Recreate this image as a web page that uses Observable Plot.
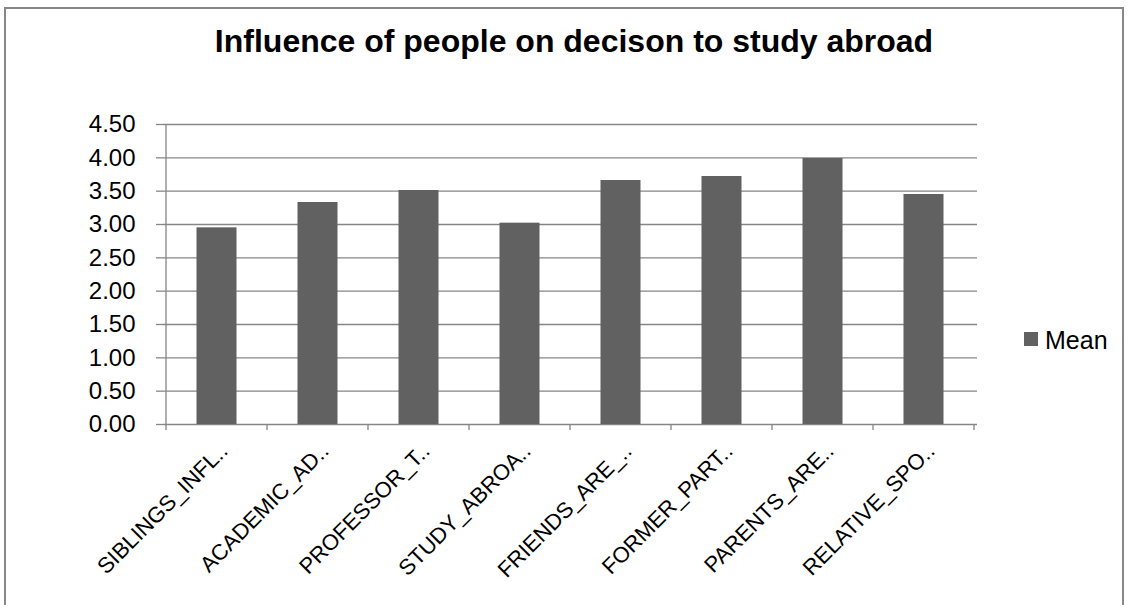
<!DOCTYPE html>
<html><head><meta charset="utf-8">
<script src="https://cdn.jsdelivr.net/npm/d3@7"></script>
<script src="https://cdn.jsdelivr.net/npm/@observablehq/plot@0.6"></script>
<style>
body{margin:0;background:#fff;font-family:"Liberation Sans",Arial,sans-serif;}
#wrap{position:relative;width:1130px;height:605px;overflow:hidden;background:#fff;}
#frame{position:absolute;left:4px;top:7px;width:1120px;height:640px;border:2px solid #878787;box-sizing:border-box;}
#chart{position:absolute;left:0;top:0;}
#title{position:absolute;left:0;width:1148px;top:25px;text-align:center;font-weight:bold;font-size:32px;line-height:32px;color:#000;white-space:nowrap;}
#legend{position:absolute;left:1024px;top:328px;font-size:25px;line-height:25px;color:#000;white-space:nowrap;}
#legend .sw{position:absolute;left:0;top:4px;width:14px;height:14px;background:#616161;}
#legend .lb{position:absolute;left:21px;top:0;}
</style>
</head>
<body>
<div id="wrap">
  <div id="frame"></div>
  <div id="chart"></div>
  <div id="title">Influence of people on decison to study abroad</div>
  <div id="legend"><span class="sw"></span><span class="lb">Mean</span></div>
</div>
<script>
const categories = ["SIBLINGS_INFL..", "ACADEMIC_AD..", "PROFESSOR_T..", "STUDY_ABROA..", "FRIENDS_ARE_..", "FORMER_PART..", "PARENTS_ARE..", "RELATIVE_SPO.."];
const means = [2.95, 3.33, 3.51, 3.02, 3.66, 3.72, 3.99, 3.45];
const yTicks = [0, 0.5, 1, 1.5, 2, 2.5, 3, 3.5, 4, 4.5];
const seriesName = "Mean";

const data = categories.map((c, i) => ({cat: c, mean: means[i]}));
const gridColor = "#868686";

function axisChrome(index, scales, values, dims) {
  const x = scales.x, y = scales.y;
  const bw = x.bandwidth();
  const g = d3.create("svg:g").attr("stroke", gridColor).attr("stroke-width", 1.3).attr("fill", "none");
  const x0 = x(categories[0]);
  const y0 = y(0);
  g.append("line").attr("x1", x0).attr("x2", x0).attr("y1", y(yTicks[yTicks.length - 1])).attr("y2", y0);
  const bounds = categories.map(c => x(c)).concat([x(categories[categories.length - 1]) + bw]);
  for (const bx of bounds) {
    g.append("line").attr("x1", bx).attr("x2", bx).attr("y1", y0).attr("y2", y0 + 6);
  }
  return g.node();
}

const chart = Plot.plot({
  width: 1130,
  height: 605,
  marginLeft: 163,
  marginRight: 153,
  marginTop: 124,
  marginBottom: 181,
  style: {fontFamily: "'Liberation Sans', Arial, sans-serif", fontSize: "22px", color: "#000", background: "transparent"},
  x: {type: "band", domain: categories, padding: 0},
  y: {domain: [0, 4.5]},
  marks: [
    Plot.ruleY(yTicks, {stroke: gridColor, strokeWidth: 1.3}),
    Plot.barY(data, {x: "cat", y: "mean", fill: "#616161", insetLeft: 30.5, insetRight: 30.5}),
    axisChrome,
    Plot.axisY({ticks: yTicks, tickFormat: d3.format(".2f"), tickSize: 7, tickPadding: 21, fontSize: 24, stroke: gridColor, strokeWidth: 1.3, color: "#000", label: null}),
    Plot.axisX({tickRotate: -45, tickSize: 0, tickPadding: 3, fontSize: 22, dx: 7, dy: 20, color: "#000", label: null})
  ]
});
document.getElementById("chart").appendChild(chart);
document.querySelector("#legend .lb").textContent = seriesName;
</script>
</body></html>
